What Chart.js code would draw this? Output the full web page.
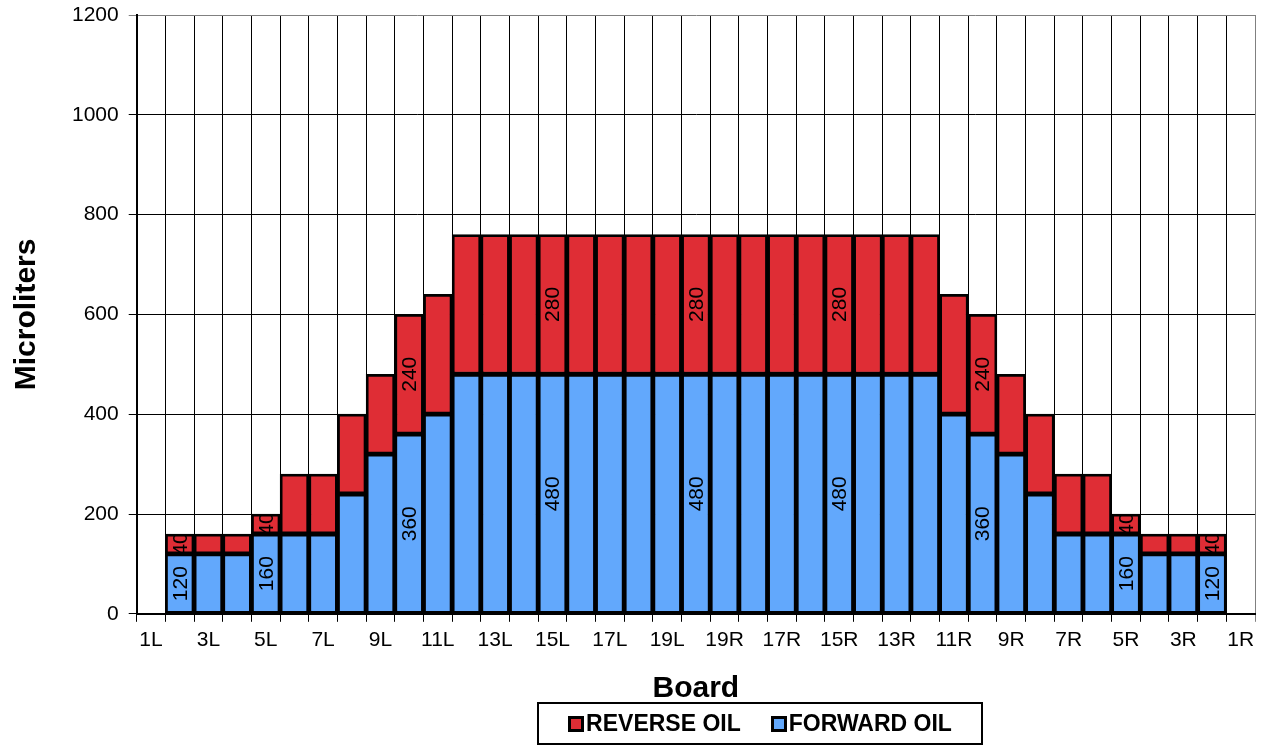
<!DOCTYPE html>
<html>
<head>
<meta charset="utf-8">
<script src="https://cdn.jsdelivr.net/npm/chart.js@4.4.1/dist/chart.umd.min.js"></script>
<style>
    body { margin: 0; background: #fff; }
    #wrap { position: relative; width: 1270px; height: 747px; }
    #legend {
        position: absolute; left: 537px; top: 702px; width: 442px; height: 39px;
        border: 2px solid #000; display: flex; align-items: center; justify-content: center;
        gap: 30px; font: bold 23px Arial, "Liberation Sans", sans-serif; color: #000;
    }
    .item { display: flex; align-items: center; }
    .box { width: 10px; height: 10px; border: 3px solid #000; margin-right: 2px; }
</style>
</head>
<body>
<div id="wrap">
    <canvas id="myChart" width="1270" height="747"></canvas>
    <div id="legend"></div>
</div>
<script>
const FONT = 'Arial, "Liberation Sans", sans-serif';

// boards along the x axis, only every other one gets a label
const categories = [
    "1L", "2L", "3L", "4L", "5L", "6L", "7L", "8L", "9L", "10L",
    "11L", "12L", "13L", "14L", "15L", "16L", "17L", "18L", "19L", "20",
    "19R", "18R", "17R", "16R", "15R", "14R", "13R", "12R", "11R", "10R",
    "9R", "8R", "7R", "6R", "5R", "4R", "3R", "2R", "1R"
];

const forwardOil = [
    null, 120, 120, 120, 160, 160, 160, 240, 320, 360, 400,
    480, 480, 480, 480, 480, 480, 480, 480, 480, 480, 480, 480, 480, 480, 480, 480, 480,
    400, 360, 320, 240, 160, 160, 160, 120, 120, 120, null
];

const reverseOil = [
    null, 40, 40, 40, 40, 120, 120, 160, 160, 240, 240,
    280, 280, 280, 280, 280, 280, 280, 280, 280, 280, 280, 280, 280, 280, 280, 280, 280,
    240, 240, 160, 160, 120, 120, 40, 40, 40, 40, null
];

// bars that carry value labels
const labeledBoards = [1, 4, 9, 14, 19, 24, 29, 34, 37];

const yTicks = [0, 200, 400, 600, 800, 1000, 1200];

// draws the rotated value labels inside the bars
const barLabels = {
    id: "barLabels",
    afterDatasetsDraw(chart) {
        const ctx = chart.ctx;
        chart.data.datasets.forEach(function (ds, d) {
            const meta = chart.getDatasetMeta(d);
            labeledBoards.forEach(function (i) {
                const bar = meta.data[i];
                const v = ds.data[i];
                if (!bar || v == null) return;
                const p = bar.getProps(["x", "y", "base", "width"], true);
                const top = Math.min(p.y, p.base);
                const h = Math.abs(p.base - p.y);
                ctx.save();
                ctx.beginPath();
                ctx.rect(p.x - p.width / 2 + 2, top + 2, p.width - 4, h - 4);
                ctx.clip();
                ctx.translate(p.x, top + h / 2);
                ctx.rotate(-Math.PI / 2);
                ctx.font = "21px " + FONT;
                ctx.fillStyle = "#000";
                ctx.textAlign = "center";
                ctx.textBaseline = "middle";
                ctx.fillText(String(v), 0, 1);
                ctx.restore();
            });
        });
    },
};

const chart = new Chart(document.getElementById("myChart"), {
    type: "bar",
    data: {
        labels: categories,
        datasets: [
            {
                label: "FORWARD OIL",
                data: forwardOil,
                backgroundColor: "#62A8FC",
                borderColor: "#000",
                borderWidth: 2.75,
                borderSkipped: false,
                barPercentage: 1,
                categoryPercentage: 1,
            },
            {
                label: "REVERSE OIL",
                data: reverseOil,
                backgroundColor: "#DF2D35",
                borderColor: "#000",
                borderWidth: 2.75,
                borderSkipped: false,
                barPercentage: 1,
                categoryPercentage: 1,
            },
        ],
    },
    options: {
        responsive: false,
        animation: false,
        layout: {
            padding: { left: 9, right: 15, top: 15, bottom: 40 },
        },
        plugins: {
            legend: { display: false },
            tooltip: { enabled: false },
        },
        scales: {
            x: {
                stacked: true,
                grid: {
                    offset: true,
                    color: (c) => (c.type === "scale" ? "#808080" : "#000"),
                    lineWidth: 1,
                    tickLength: 8,
                },
                border: { color: "#000", width: 2 },
                ticks: {
                    autoSkip: false,
                    maxRotation: 0,
                    color: "#000",
                    font: { size: 21, family: FONT },
                    padding: 6,
                    callback: (val, i) => (i % 2 === 0 ? categories[i] : ""),
                },
                title: {
                    display: true,
                    text: "Board",
                    color: "#000",
                    font: { size: 30, weight: "bold", family: FONT },
                    padding: { top: 12, bottom: 0 },
                },
            },
            y: {
                stacked: true,
                min: 0,
                max: 1200,
                afterBuildTicks: (scale) => {
                    scale.ticks = yTicks.map((v) => ({ value: v }));
                },
                afterFit: (scale) => {
                    // let layout.padding.top decide where the plot starts
                    scale.paddingTop = 0;
                },
                grid: {
                    color: (c) => (c.tick && c.tick.value === 1200 ? "#808080" : "#000"),
                    lineWidth: 1,
                    tickLength: 8,
                },
                border: { color: "#000", width: 2 },
                ticks: {
                    color: "#000",
                    font: { size: 21, family: FONT },
                    padding: 10,
                    callback: (v) => String(v),
                },
                title: {
                    display: true,
                    text: "Microliters",
                    color: "#000",
                    font: { size: 30, weight: "bold", family: FONT },
                    padding: { top: 0, bottom: 17 },
                },
            },
        },
    },
    plugins: [barLabels],
});

// legend built from the datasets, reverse oil first
var content = "";
chart.data.datasets.slice().reverse().forEach(function (ds) {
    content += `<div class="item"><span class="box" style="background:${ds.backgroundColor}"></span>${ds.label}</div>`;
});
document.getElementById("legend").innerHTML = content;
</script>
</body>
</html>
